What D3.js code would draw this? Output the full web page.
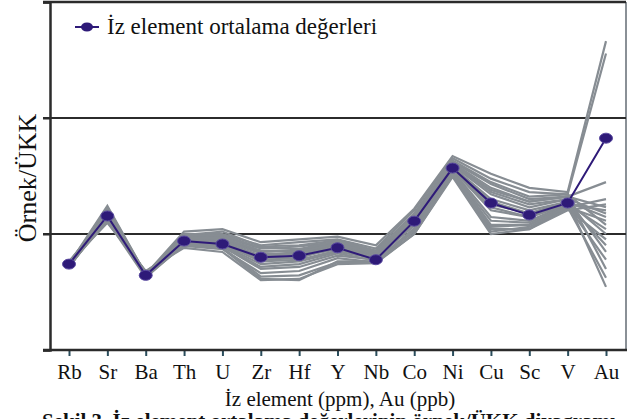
<!DOCTYPE html>
<html>
<head>
<meta charset="utf-8">
<script src="https://cdn.jsdelivr.net/npm/d3@7"></script>
<style>
  body { margin: 0; background: #fff; }
  svg { display: block; }
  svg text { font-family: "Liberation Serif", "Times New Roman", "DejaVu Serif", serif; }
</style>
</head>
<body>
<div id="chart"></div>
<script>
var width = 635,
    height = 419;

// element order on the x axis
var elements = ["Rb", "Sr", "Ba", "Th", "U", "Zr", "Hf", "Y", "Nb", "Co", "Ni", "Cu", "Sc", "V", "Au"];

// mean of all samples (sample / UCC)
var meanValues = [0.055, 0.143, 0.044, 0.087, 0.082, 0.063, 0.065, 0.076, 0.060, 0.129, 0.37, 0.185, 0.146, 0.185, 0.67];

// individual samples (sample / UCC)
var sampleValues = [
  [0.055, 0.175, 0.045, 0.105, 0.110, 0.085, 0.090, 0.095, 0.080, 0.165, 0.47, 0.33, 0.25, 0.23, 4.6],
  [0.053, 0.165, 0.044, 0.100, 0.100, 0.080, 0.085, 0.090, 0.075, 0.160, 0.45, 0.30, 0.23, 0.22, 3.6],
  [0.057, 0.150, 0.046, 0.090, 0.085, 0.065, 0.070, 0.080, 0.065, 0.140, 0.40, 0.24, 0.19, 0.21, 0.28],
  [0.052, 0.140, 0.043, 0.080, 0.075, 0.041, 0.040, 0.058, 0.058, 0.110, 0.34, 0.12, 0.12, 0.17, 0.20],
  [0.056, 0.125, 0.048, 0.076, 0.070, 0.040, 0.041, 0.055, 0.056, 0.100, 0.31, 0.10, 0.11, 0.16, 0.18],
  [0.054, 0.170, 0.045, 0.095, 0.095, 0.075, 0.078, 0.085, 0.068, 0.150, 0.42, 0.27, 0.20, 0.21, 0.17],
  [0.055, 0.135, 0.047, 0.085, 0.080, 0.055, 0.058, 0.070, 0.062, 0.120, 0.36, 0.16, 0.14, 0.18, 0.16],
  [0.051, 0.155, 0.044, 0.092, 0.090, 0.070, 0.072, 0.085, 0.070, 0.135, 0.39, 0.22, 0.17, 0.20, 0.15],
  [0.058, 0.145, 0.046, 0.088, 0.085, 0.060, 0.062, 0.078, 0.064, 0.125, 0.37, 0.19, 0.15, 0.19, 0.14],
  [0.054, 0.130, 0.042, 0.082, 0.078, 0.050, 0.052, 0.065, 0.060, 0.105, 0.33, 0.11, 0.11, 0.17, 0.13],
  [0.056, 0.160, 0.045, 0.098, 0.105, 0.078, 0.080, 0.088, 0.072, 0.150, 0.43, 0.28, 0.21, 0.22, 0.12],
  [0.053, 0.138, 0.047, 0.084, 0.082, 0.058, 0.060, 0.072, 0.063, 0.118, 0.35, 0.14, 0.13, 0.18, 0.11],
  [0.055, 0.148, 0.043, 0.091, 0.088, 0.068, 0.066, 0.082, 0.066, 0.130, 0.38, 0.20, 0.16, 0.19, 0.10],
  [0.057, 0.128, 0.046, 0.079, 0.074, 0.046, 0.048, 0.062, 0.057, 0.100, 0.32, 0.105, 0.115, 0.165, 0.09],
  [0.052, 0.142, 0.044, 0.086, 0.083, 0.062, 0.064, 0.074, 0.061, 0.122, 0.36, 0.17, 0.14, 0.18, 0.08],
  [0.056, 0.152, 0.045, 0.093, 0.092, 0.072, 0.070, 0.083, 0.068, 0.138, 0.40, 0.23, 0.18, 0.20, 0.07],
  [0.054, 0.136, 0.047, 0.083, 0.079, 0.052, 0.055, 0.068, 0.059, 0.112, 0.34, 0.13, 0.125, 0.175, 0.06],
  [0.055, 0.158, 0.044, 0.096, 0.098, 0.076, 0.074, 0.087, 0.070, 0.145, 0.41, 0.25, 0.19, 0.21, 0.05],
  [0.053, 0.132, 0.046, 0.081, 0.076, 0.043, 0.044, 0.057, 0.057, 0.108, 0.33, 0.115, 0.12, 0.17, 0.042],
  [0.056, 0.146, 0.045, 0.089, 0.086, 0.064, 0.068, 0.077, 0.063, 0.128, 0.37, 0.18, 0.15, 0.19, 0.035]
];

var legendLabel = "İz element ortalama değerleri";
var yTitle = "Örnek/ÜKK";
var xTitle = "İz element (ppm), Au (ppb)";
var captionText = "Şekil 3. İz element ortalama değerlerinin örnek/ÜKK diyagramı";
var yTicks = [0.01, 0.1, 1, 10];

var serif = "'Liberation Serif', 'Times New Roman', 'DejaVu Serif', serif";
var plot = { left: 50, right: 626, top: 2, bottom: 350 };

var svg = d3.select("#chart").append("svg")
    .attr("width", width)
    .attr("height", height);

var x = d3.scalePoint()
    .domain(elements)
    .range([69, 606]);

var y = d3.scaleLog()
    .domain([0.01, 10])
    .range([plot.bottom, plot.top]);

// frame: right border is gray
svg.append("line")
    .attr("x1", plot.right).attr("x2", plot.right)
    .attr("y1", plot.top).attr("y2", plot.bottom)
    .attr("stroke", "#8a9096").attr("stroke-width", 2);

// horizontal gridlines at each decade
svg.selectAll(".grid")
    .data(yTicks.slice(1, 3))
    .enter().append("line")
    .attr("class", "grid")
    .attr("x1", plot.left - 7).attr("x2", plot.right)
    .attr("y1", function(d) { return y(d); })
    .attr("y2", function(d) { return y(d); })
    .attr("stroke", "#2b2b2b").attr("stroke-width", 2);

var line = d3.line()
    .x(function(d, i) { return x(elements[i]); })
    .y(function(d) { return y(d); });

// sample lines
svg.selectAll(".sample")
    .data(sampleValues)
    .enter().append("path")
    .attr("class", "sample")
    .attr("d", line)
    .attr("fill", "none")
    .attr("stroke", "#878d93")
    .attr("stroke-width", 2.2);

// mean line
svg.append("path")
    .attr("d", line(meanValues))
    .attr("fill", "none")
    .attr("stroke", "#2e1a78")
    .attr("stroke-width", 2);

svg.selectAll(".meanDot")
    .data(meanValues)
    .enter().append("ellipse")
    .attr("class", "meanDot")
    .attr("cx", function(d, i) { return x(elements[i]); })
    .attr("cy", function(d) { return y(d); })
    .attr("rx", 6.5).attr("ry", 5)
    .attr("fill", "#2e1a78")
    .attr("stroke", "#5a4aa0")
    .attr("stroke-width", 1);

// left axis
var yAxis = d3.axisLeft(y).tickValues(yTicks).tickSize(7).tickFormat("");
var gy = svg.append("g")
    .attr("transform", "translate(" + plot.left + ",0)")
    .call(yAxis);
gy.select(".domain").attr("stroke", "#2b2b2b").attr("stroke-width", 2.5);
gy.selectAll(".tick line").attr("stroke", "#2b2b2b").attr("stroke-width", 2);

// top border
svg.append("line")
    .attr("x1", plot.left - 7).attr("x2", plot.right)
    .attr("y1", plot.top).attr("y2", plot.top)
    .attr("stroke", "#2b2b2b").attr("stroke-width", 2.5);

// bottom axis
var xAxis = d3.axisBottom(x).tickSize(6).tickSizeOuter(0).tickPadding(8);
var gx = svg.append("g")
    .attr("transform", "translate(0," + plot.bottom + ")")
    .call(xAxis)
    .attr("font-family", serif)
    .attr("font-size", 21);
gx.select(".domain").remove();
gx.append("line")
    .attr("x1", plot.left - 7).attr("x2", plot.right + 1)
    .attr("stroke", "#2b2b2b").attr("stroke-width", 2.5);
gx.selectAll(".tick line").attr("stroke", "#2a4d5c").attr("stroke-width", 2);
gx.selectAll(".tick text").attr("fill", "#111");

// axis titles
svg.append("text")
    .attr("transform", "translate(36,178) rotate(-90)")
    .attr("text-anchor", "middle")
    .attr("font-family", serif)
    .attr("font-size", 26)
    .attr("fill", "#111")
    .text(yTitle);

svg.append("text")
    .attr("x", 340).attr("y", 406)
    .attr("text-anchor", "middle")
    .attr("font-family", serif)
    .attr("font-size", 21)
    .attr("fill", "#111")
    .text(xTitle);

// legend
var lg = svg.append("g").attr("transform", "translate(75,27)");
lg.append("line")
    .attr("x1", 0).attr("x2", 24)
    .attr("stroke", "#2e1a78").attr("stroke-width", 2);
lg.append("ellipse")
    .attr("cx", 12).attr("rx", 6).attr("ry", 4.5)
    .attr("fill", "#2e1a78");
lg.append("text")
    .attr("x", 32).attr("y", 7)
    .attr("font-family", serif)
    .attr("font-size", 23)
    .attr("fill", "#111")
    .text(legendLabel);

// caption, cut by the bottom edge as in the figure
svg.append("text")
    .attr("x", 42).attr("y", 428)
    .attr("font-family", serif)
    .attr("font-size", 21)
    .attr("font-weight", "bold")
    .attr("fill", "#111")
    .text(captionText);
</script>
</body>
</html>
